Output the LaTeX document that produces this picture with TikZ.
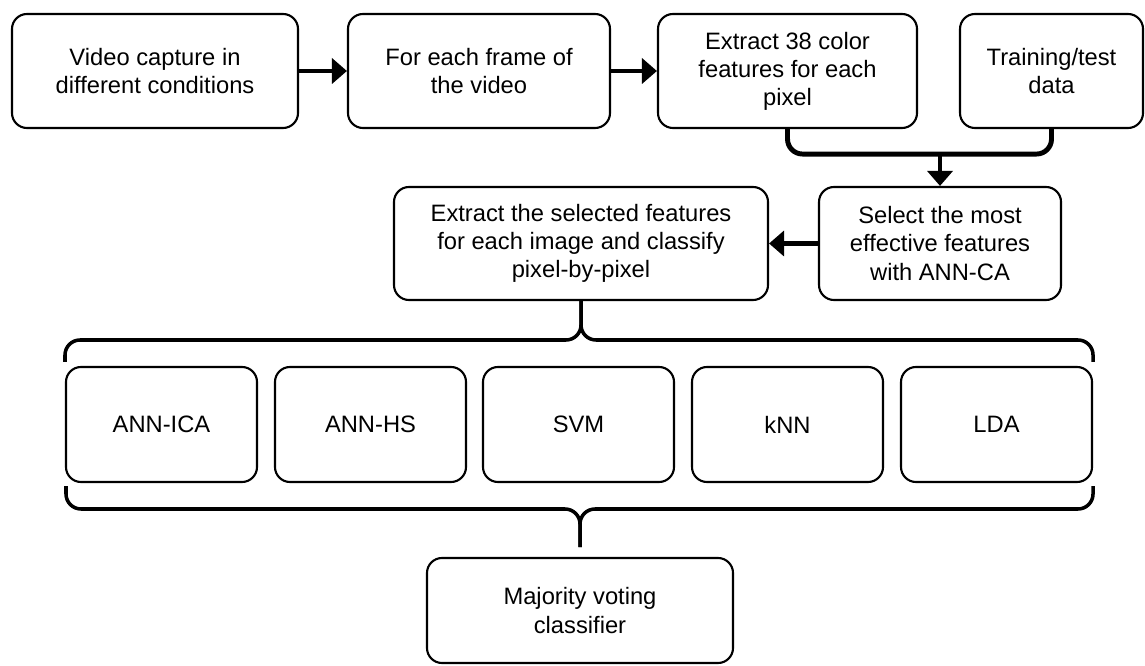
\documentclass[tikz,border=0pt]{standalone}
\usepackage{fontspec}
\setmainfont{Liberation Sans}
\usetikzlibrary{arrows.meta,positioning}

\begin{document}
\begin{tikzpicture}[
        box/.style={rectangle, draw, line width=1.2pt, rounded corners=0.3cm, align=center, font=\fontsize{13.5}{16}\selectfont},
        flow/.style={-{Triangle[length=0.3cm, width=0.5cm]}, line width=2.8pt},
        bracket/.style={line width=2.8pt, rounded corners=0.3cm},
        brace/.style={line width=2pt, rounded corners=0.3cm}
    ]
        \useasboundingbox (0,0) rectangle (22.9,-13.32);

        % top row
        \node[box, minimum width=5.72cm, minimum height=2.28cm] at (3.10,-1.42) (vid) {Video capture in\\different conditions};
        \node[box, minimum width=5.24cm, minimum height=2.28cm] at (9.58,-1.42) (frame) {For each frame of\\the video};
        \node[box, minimum width=5.18cm, minimum height=2.28cm] at (15.75,-1.42) (extr) {Extract 38 color\\features for each\\pixel};
        \node[box, minimum width=3.66cm, minimum height=2.28cm] at (21.03,-1.42) (train) {Training/test\\data};

        % feature selection
        \node[box, minimum width=4.84cm, minimum height=2.26cm] at (18.80,-4.87) (sel) {Select the most\\effective features\\with ANN-CA};
        \node[box, minimum width=7.48cm, minimum height=2.26cm] at (11.62,-4.87) (extsel) {Extract the selected features\\for each image and classify\\pixel-by-pixel};

        % classifiers
        \node[box, minimum width=3.82cm, minimum height=2.30cm] at (3.23,-8.49) (ica) {ANN-ICA};
        \node[box, minimum width=3.82cm, minimum height=2.30cm] at (7.41,-8.49) (hs) {ANN-HS};
        \node[box, minimum width=3.82cm, minimum height=2.30cm] at (11.57,-8.49) (svm) {SVM};
        \node[box, minimum width=3.82cm, minimum height=2.30cm] at (15.75,-8.49) (knn) {kNN};
        \node[box, minimum width=3.82cm, minimum height=2.30cm] at (19.93,-8.49) (lda) {LDA};

        \node[box, minimum width=6.12cm, minimum height=2.10cm] at (11.60,-12.21) (vote) {Majority voting\\classifier};

        % arrows
        \draw[flow] (vid) -- (frame);
        \draw[flow] (frame) -- (extr);
        \draw[bracket] (extr.south) -- ++(0,-0.5) -| (train.south);
        \coordinate (join) at (18.80,-3.06);
        \draw[flow] (join) -- (sel);
        \draw[flow] (sel) -- (extsel);

        % braces
        \coordinate (ul) at (1.30,-7.24);
        \coordinate (ur) at (21.86,-7.24);
        \coordinate (um) at (11.62,-6.80);
        \draw[brace] (ul) |- (um) -- (extsel.south);
        \draw[brace] (ur) |- (um) -- (extsel.south);

        \coordinate (ll) at (1.32,-9.72);
        \coordinate (lr) at (21.86,-9.72);
        \coordinate (lm) at (11.60,-10.18);
        \coordinate (lt) at (11.60,-10.94);
        \draw[brace] (ll) |- (lm) -- (lt);
        \draw[brace] (lr) |- (lm) -- (lt);
    \end{tikzpicture}
\end{document}
